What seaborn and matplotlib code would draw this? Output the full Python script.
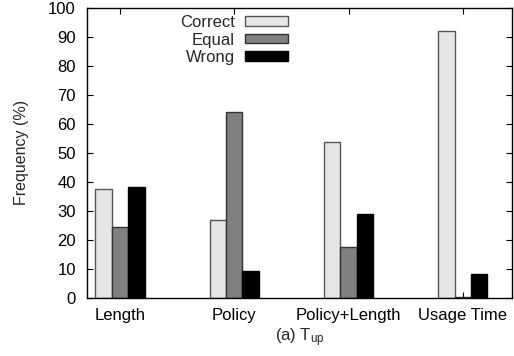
import matplotlib
matplotlib.use("Agg")
import matplotlib.pyplot as plt
import seaborn as sns
import pandas as pd

categories = ["Length", "Policy", "Policy+Length", "Usage Time"]
series = ["Correct", "Equal", "Wrong"]
correct = [37.5, 26.8, 53.6, 91.9]
equal = [24.4, 64.0, 17.7, 0.3]
wrong = [38.2, 9.3, 29.0, 8.2]
yticks = [0, 10, 20, 30, 40, 50, 60, 70, 80, 90, 100]

colors = ["#e6e6e6", "#808080", "#000000"]
edges = ["#555555", "#333333", "#000000"]

rows = []
for name, vals in zip(series, [correct, equal, wrong]):
    for c, v in zip(categories, vals):
        rows.append({"Category": c, "Series": name, "Value": v})
df = pd.DataFrame(rows)

sns.set_style("ticks")
plt.rcParams["font.family"] = ["Liberation Sans", "DejaVu Sans"]
plt.rcParams["mathtext.fontset"] = "custom"
plt.rcParams["mathtext.rm"] = "Liberation Sans"
plt.rcParams["mathtext.it"] = "Liberation Sans"

fig = plt.figure(figsize=(5.14, 3.56), dpi=100)
ax = fig.add_axes([0.169, 0.163, 0.827, 0.815])

sns.barplot(data=df, x="Category", y="Value", hue="Series", order=categories,
            hue_order=series, palette=colors, width=0.43, dodge=True,
            saturation=1, edgecolor="black", linewidth=1.0, ax=ax, legend=True)

for cont, ec in zip(ax.containers, edges):
    for p in cont:
        p.set_edgecolor(ec)

ax.set_xlim(-0.29, 3.43)
ax.set_ylim(0, 100)
ax.set_yticks(yticks)
ax.tick_params(axis="both", direction="in", length=4, width=0.8, labelsize=12,
               top=True, right=True, colors="black")
ax.tick_params(axis="x", pad=7)
ax.tick_params(axis="y", pad=8)
for s in ax.spines.values():
    s.set_visible(True)
    s.set_linewidth(1.0)
    s.set_color("black")

ax.set_ylabel("Frequency (%)", fontsize=11.5, labelpad=14)
ax.set_xlabel("(a) T$_{\\mathrm{up}}$", fontsize=12, labelpad=3)

handles, labels = ax.get_legend_handles_labels()
for h, ec in zip(handles, edges):
    h.set_edgecolor(ec)
ax.legend(handles, labels, loc="upper right", bbox_to_anchor=(0.473, 0.975),
          frameon=False, markerfirst=False, fontsize=12, handlelength=2.6,
          handleheight=0.5, handletextpad=0.6, labelspacing=0.15, borderpad=0,
          borderaxespad=0)

fig.savefig("out.png", dpi=100)
